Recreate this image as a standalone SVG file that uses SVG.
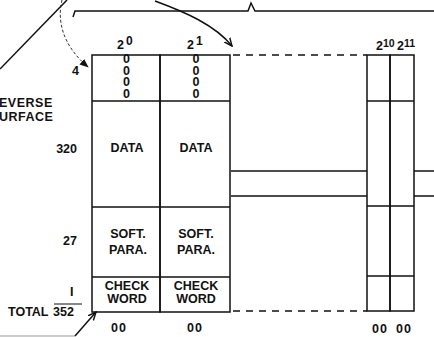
<svg xmlns="http://www.w3.org/2000/svg" width="434" height="337" viewBox="0 0 434 337">
<defs>
<style>
text{font-family:"Liberation Sans",Arial,sans-serif;font-weight:bold;font-size:12.5px;fill:#111}
.c{text-anchor:middle}
.e{text-anchor:end}
.sup{font-size:12px}
.sup2{font-size:10.5px}
.vz{writing-mode:vertical-rl;text-orientation:upright;font-size:12.5px}
.ln{stroke:#111;stroke-width:1.5;fill:none}
.dash{stroke:#111;stroke-width:1.3;fill:none;stroke-dasharray:7 6}
.dot{stroke:#333;stroke-width:1;fill:none;stroke-dasharray:3 2}
</style>
<marker id="ah" viewBox="0 0 10 10" refX="9" refY="5" markerWidth="9" markerHeight="9" orient="auto" markerUnits="userSpaceOnUse">
<path d="M0,1 L9,5 L0,9" fill="none" stroke="#111" stroke-width="1.6"/>
</marker>
<marker id="ahf" viewBox="0 0 10 10" refX="9" refY="5" markerWidth="9" markerHeight="9" orient="auto" markerUnits="userSpaceOnUse">
<path d="M0,1 L10,5 L0,9 Z" fill="#111"/>
</marker>
</defs>

<g id="col-2-0">
<rect class="ln" x="92" y="55" width="68" height="257"/>
<line class="ln" x1="92" y1="101" x2="160" y2="101"/>
<line class="ln" x1="92" y1="207" x2="160" y2="207"/>
<line class="ln" x1="92" y1="277" x2="160" y2="277"/>
<text x="117" y="49">2</text><text class="sup" x="126" y="45">0</text>
<text class="vz" x="126.5" y="52" letter-spacing="-2.5">0000</text>
<text class="c" x="127" y="152">DATA</text>
<text class="c" x="128" y="238">SOFT.</text>
<text class="c" x="128" y="254">PARA.</text>
<text class="c" x="127" y="290">CHECK</text>
<text class="c" x="127" y="303">WORD</text>
<text class="c" x="119" y="332" letter-spacing="1">00</text>
</g>

<g id="col-2-1">
<rect class="ln" x="160" y="55" width="70" height="257"/>
<line class="ln" x1="160" y1="101" x2="230" y2="101"/>
<line class="ln" x1="160" y1="207" x2="230" y2="207"/>
<line class="ln" x1="160" y1="277" x2="230" y2="277"/>
<text x="187" y="49">2</text><text class="sup" x="196" y="45">1</text>
<text class="vz" x="196" y="52" letter-spacing="-2.5">0000</text>
<text class="c" x="196" y="152">DATA</text>
<text class="c" x="196" y="238">SOFT.</text>
<text class="c" x="196" y="254">PARA.</text>
<text class="c" x="196" y="290">CHECK</text>
<text class="c" x="196" y="303">WORD</text>
<text class="c" x="195" y="332" letter-spacing="1">00</text>
</g>

<g id="col-2-10">
<rect class="ln" x="367" y="55" width="23" height="256"/>
<line class="ln" x1="367" y1="101" x2="390" y2="101"/>
<line class="ln" x1="367" y1="206" x2="390" y2="206"/>
<line class="ln" x1="367" y1="276" x2="390" y2="276"/>
<text x="376" y="50">2</text><text class="sup2" x="383" y="47">10</text>
<text class="c" x="380" y="333" letter-spacing="1">00</text>
</g>

<g id="col-2-11">
<rect class="ln" x="390" y="55" width="24" height="256"/>
<line class="ln" x1="390" y1="101" x2="414" y2="101"/>
<line class="ln" x1="390" y1="206" x2="414" y2="206"/>
<line class="ln" x1="390" y1="276" x2="414" y2="276"/>
<text x="397" y="50">2</text><text class="sup2" x="404" y="47">11</text>
<text class="c" x="404" y="333" letter-spacing="1">00</text>
</g>

<g id="labels">
<text x="72" y="75">4</text>
<text x="-1" y="107" letter-spacing="0.5">EVERSE</text>
<text x="-1" y="121" letter-spacing="0.5">URFACE</text>
<text class="e" x="77" y="153">320</text>
<text class="e" x="77" y="245">27</text>
<text x="70" y="296">I</text>
<line x1="54" y1="304" x2="82" y2="304" stroke="#111" stroke-width="1"/>
<text x="8" y="316">TOTAL</text>
<text x="53" y="316">352</text>
</g>

<g id="connectors">
<path class="ln" d="M73,17 L75,11 L248,11 L251,3 L255,11 L434,11"/>
<line class="ln" x1="231" y1="171" x2="367" y2="171"/>
<line class="ln" x1="231" y1="196" x2="367" y2="196"/>
<line class="ln" x1="414" y1="171" x2="434" y2="171"/>
<line class="ln" x1="414" y1="196" x2="434" y2="196"/>
<line class="dash" x1="233" y1="55" x2="367" y2="55"/>
<line class="dash" x1="233" y1="311" x2="367" y2="311"/>
<line class="ln" x1="0" y1="69" x2="67" y2="0"/>
<path class="ln" d="M155,1 C185,12 215,25 232,46" marker-end="url(#ah)"/>
<path class="dot" d="M62,0 C57,20 62,45 88,67" marker-end="url(#ahf)"/>
<line x1="0" y1="336" x2="75" y2="336" stroke="#999" stroke-width="1.2"/>
<path class="ln" d="M75,336 L96,312" marker-end="url(#ah)"/>
</g>
</svg>
